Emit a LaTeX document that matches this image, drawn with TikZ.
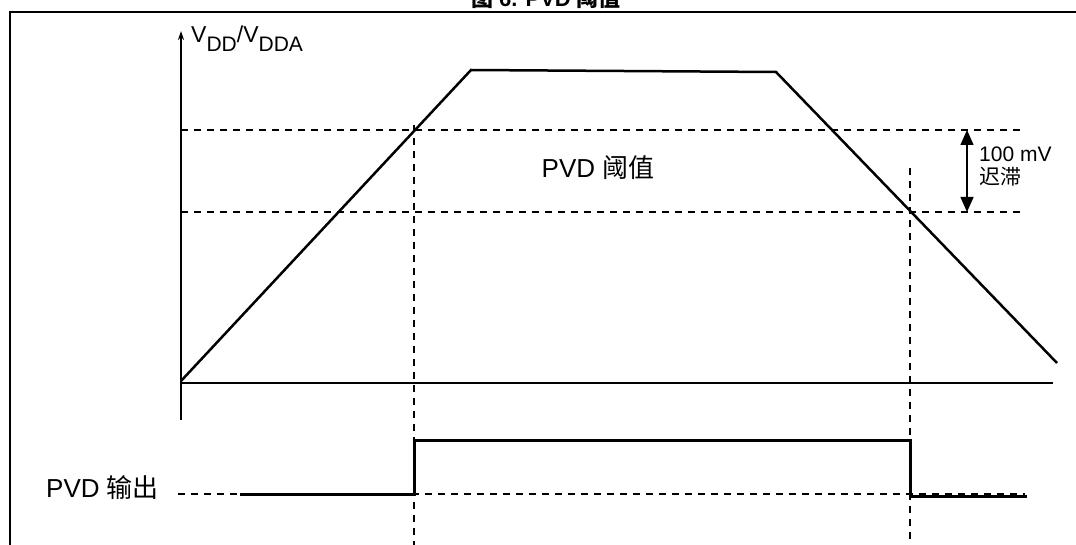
\documentclass[tikz,border=0pt]{standalone}
\usepackage{fontspec}
\setmainfont{Liberation Sans}
\newfontfamily\cjk{Noto Sans CJK SC}
\usetikzlibrary{arrows.meta}
\begin{document}
\begin{tikzpicture}[x=1pt,y=-1pt,
  frameline/.style={line width=2pt},
  axisline/.style={line width=1.6pt},
  curveline/.style={line width=2.5pt, line join=miter},
  guide/.style={line width=2pt, dash pattern=on 7pt off 6pt},
  signal/.style={line width=3pt, line join=miter},
  lbl/.style={font=\fontsize{26}{28}\selectfont, inner sep=0pt},
  small/.style={font=\fontsize{21}{25}\selectfont, inner sep=0pt, align=left}]
\useasboundingbox (0,0) rectangle (1076,545);

% frame
\coordinate (fTR) at (1076,12);
\coordinate (fTL) at (10,12);
\coordinate (fBL) at (10,545);
\draw[frameline] (fTR) -- (fTL) -- (fBL);

% title (cut at top, as in the reference)
\node[anchor=base, inner sep=0pt, font=\bfseries\fontsize{22}{22}\selectfont] (title) at (546,6.5) {{\cjk 图} 6. PVD {\cjk 阈值}};

% axes
\coordinate (yBot) at (181,420);
\coordinate (yTop) at (181,31);
\coordinate (xL) at (181,383);
\coordinate (xR) at (1053,383);
\draw[axisline, -{Stealth[length=9pt,width=6pt]}] (yBot) -- (yTop);
\draw[axisline] (xL) -- (xR);
\node[anchor=base west, inner sep=0pt, font=\fontsize{23}{25}\selectfont] (ylab) at (191,43)
  {V\raisebox{-9pt}{\fontsize{21}{21}\selectfont DD}/V\raisebox{-9pt}{\fontsize{21}{21}\selectfont DDA}};

% voltage curve
\coordinate (c0) at (181,381);
\coordinate (c1) at (471,70);
\coordinate (c2) at (776,72);
\coordinate (c3) at (1057,363);
\draw[curveline] (c0) -- (c1) -- (c2) -- (c3);

% threshold guides
\coordinate (hA1) at (181,130); \coordinate (hA2) at (1022,130);
\coordinate (hB1) at (181,212); \coordinate (hB2) at (1022,212);
\draw[guide] (hA1) -- (hA2);
\draw[guide] (hB1) -- (hB2);

\coordinate (vA1) at (414,125); \coordinate (vA2) at (414,545);
\coordinate (vB1) at (910,168); \coordinate (vB2) at (910,545);
\draw[guide] (vA1) -- (vA2);
\draw[guide] (vB1) -- (vB2);

\node[lbl] (thr) at (598,168) {PVD {\cjk 阈值}};

% hysteresis arrow
\coordinate (arT) at (967,130);
\coordinate (arB) at (967,212);
\draw[line width=1.4pt, {Triangle[length=15pt,width=13pt]}-{Triangle[length=15pt,width=13pt]}] (arT) -- (arB);
\node[small, anchor=north west] (hys) at (979,147) {100 mV\\[-2pt]{\cjk 迟滞}};

% PVD output
\node[lbl, anchor=west] (outlbl) at (46,488) {PVD {\cjk 输出}};
\coordinate (oD1) at (178,494);
\coordinate (oD2) at (1025,494);
\draw[guide] (oD1) -- (oD2);
\coordinate (s0) at (240,494);
\coordinate (s1) at (414,494);
\coordinate (s2) at (414,440);
\coordinate (s3) at (910,440);
\coordinate (s4) at (910,496);
\coordinate (s5) at (1027,496);
\draw[signal] (s0) -- (s1) -- (s2) -- (s3) -- (s4) -- (s5);
\end{tikzpicture}
\end{document}
